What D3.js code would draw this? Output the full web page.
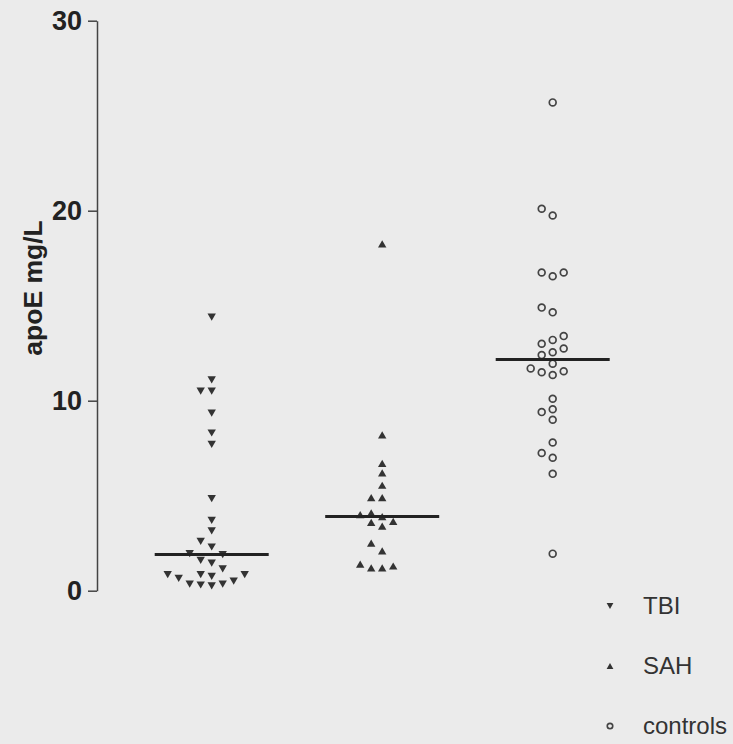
<!DOCTYPE html>
<html>
<head>
<meta charset="utf-8">
<script src="https://cdn.jsdelivr.net/npm/d3@7"></script>
<style>
  body { margin: 0; background: #ebebeb; }
  svg { display: block; }
</style>
</head>
<body>
<svg id="drawing_region"></svg>
<script>
// groups and values (apoE mg/L)
var groups = ['TBI', 'SAH', 'controls'];
var tbi = [14.4, 11.1, 10.5, 10.5, 9.35, 8.3, 7.7, 4.85, 3.7, 3.15, 2.6, 2.3, 1.95, 1.9,
           1.6, 1.45, 1.15, 0.85, 0.85, 0.85, 0.75, 0.65, 0.5, 0.35, 0.35, 0.3, 0.25];
var sah = [18.25, 8.2, 6.7, 6.2, 5.55, 4.9, 4.9, 4.1, 4.0, 3.9, 3.65, 3.6, 3.4, 2.5, 2.1,
           1.4, 1.3, 1.2, 1.2];
var controls = [25.7, 20.1, 19.75, 16.75, 16.75, 16.55, 14.9, 14.65, 13.4, 13.2, 13.0, 12.75,
                12.55, 12.4, 11.95, 11.7, 11.55, 11.5, 11.35, 10.1, 9.55, 9.4, 9.0, 7.8, 7.25,
                7.0, 6.15, 1.95];
var yticks = [0, 10, 20, 30];
var values = [tbi, sah, controls];

var width = 733;
var height = 744;

var svg = d3.select('#drawing_region')
    .attr('width', width)
    .attr('height', height);

const yscale = d3.scaleLinear()
      .domain([0, 30])
      .range([590.7, 20.7]);

const xscale = d3.scalePoint()
      .domain(groups)
      .range([211.7, 552.7]);

// axis
const yaxis = d3.axisLeft(yscale)
      .tickValues(yticks)
      .tickSize(9)
      .tickSizeOuter(0)
      .tickPadding(6);

const yaxis_group = svg.append('g')
      .attr('transform', 'translate(97, 0)')
      .call(yaxis);
yaxis_group.select('.domain').attr('stroke', '#444').attr('stroke-width', 1.5);
yaxis_group.selectAll('.tick line').attr('stroke', '#444').attr('stroke-width', 1.5);
yaxis_group.selectAll('.tick text')
      .attr('fill', '#222')
      .style('font', 'bold 27px "Liberation Sans", Arial, sans-serif');

svg.append('text')
    .attr('transform', 'translate(41.5, 288) rotate(-90)')
    .attr('text-anchor', 'middle')
    .attr('fill', '#222')
    .style('font', 'bold 26.5px "Liberation Sans", Arial, sans-serif')
    .text('apoE mg/L');

// marker shapes
function marker(sel, g, s) {
  if (g === 'controls') {
    sel.append('circle').attr('r', 3.4 * s)
       .attr('fill', 'none').attr('stroke', '#444').attr('stroke-width', 1.7);
  } else {
    var w = 4.2 * s, h = 3.6 * s;
    var d = g === 'TBI'
      ? `M${-w},${-h}L${w},${-h}L0,${h}Z`
      : `M${-w},${h}L${w},${h}L0,${-h}Z`;
    sel.append('path').attr('d', d).attr('fill', '#333');
  }
}

// simple column swarm so points of similar value sit side by side
const slotw = 11, gap = 9.5;
function swarm(vals) {
  var placed = [];
  vals.slice().sort((a, b) => a - b).forEach(v => {
    var py = yscale(v);
    for (var i = 0; ; i++) {
      var k = i === 0 ? 0 : (i % 2 ? -(i + 1) / 2 : i / 2);
      if (!placed.some(p => p.k === k && Math.abs(p.py - py) < gap)) {
        placed.push({v: v, py: py, k: k});
        break;
      }
    }
  });
  return placed;
}

groups.forEach((g, gi) => {
  var pts = swarm(values[gi]);
  var cx = xscale(g);
  svg.append('g').selectAll('g').data(pts).enter()
    .append('g')
    .attr('transform', d => `translate(${cx + d.k * slotw}, ${d.py})`)
    .each(function() { marker(d3.select(this), g, 1); });

  var med = d3.median(values[gi]);
  svg.append('line')
    .attr('x1', cx - 57).attr('x2', cx + 57)
    .attr('y1', yscale(med)).attr('y2', yscale(med))
    .attr('stroke', '#222').attr('stroke-width', 3);
});

// legend
const legend = svg.append('g').selectAll('g').data(groups).enter()
    .append('g')
    .attr('transform', (d, i) => `translate(610, ${606 + i * 60})`);
legend.each(function(d) { marker(d3.select(this), d, 0.8); });
legend.append('text')
    .attr('x', 33)
    .attr('dy', '0.35em')
    .attr('fill', '#333')
    .style('font', '24px "Liberation Sans", Arial, sans-serif')
    .text(d => d);
</script>
</body>
</html>
